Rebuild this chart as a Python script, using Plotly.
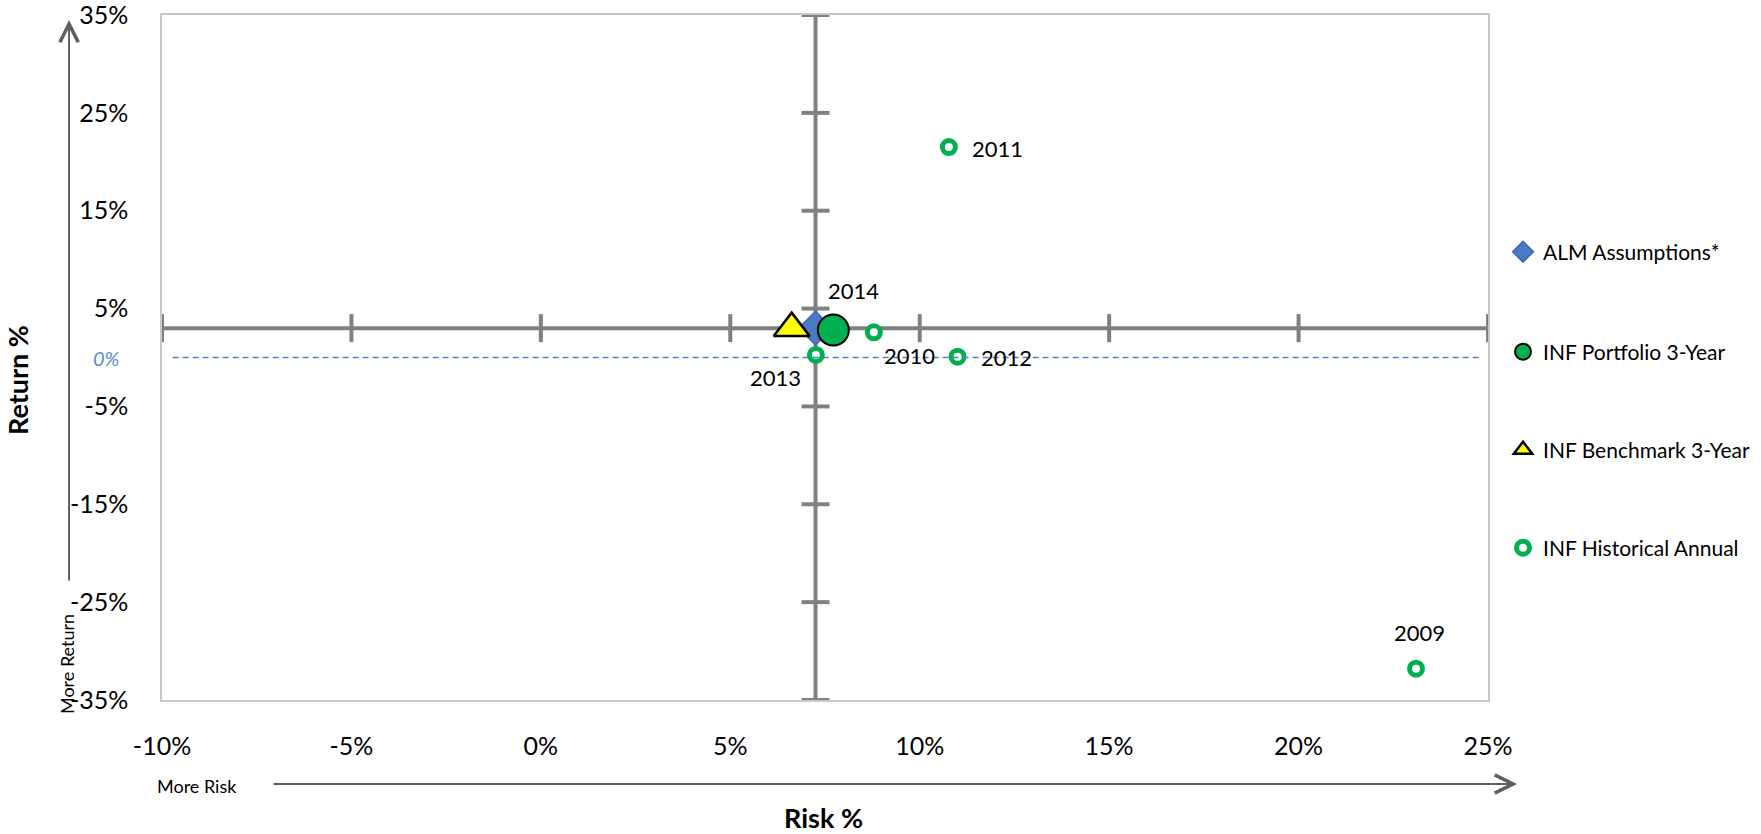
import plotly.graph_objects as go

# Risk / return figures, in percent
alm_risk = [7.25]
alm_return = [3.0]

portfolio_risk = [7.72]
portfolio_return = [2.8]

benchmark_risk = [6.62]
benchmark_return = [3.0]

hist_years = ["2009", "2010", "2011", "2012", "2013", "2014"]
hist_risk = [23.1, 8.79, 10.77, 11.0, 7.26, 7.7]
hist_return = [-31.8, 2.57, 21.5, 0.08, 0.26, 2.9]

x_ticks = [-10, -5, 0, 5, 10, 15, 20, 25]
x_tick_labels = ["-10%", "-5%", "0%", "5%", "10%", "15%", "20%", "25%"]
y_ticks = [35, 25, 15, 5, -5, -15, -25, -35]
y_tick_labels = ["35%", "25%", "15%", "5%", "-5%", "-15%", "-25%", "-35%"]
zero_line = 0

FONT = "Lato"
AXIS_GREY = "#808080"
GREEN = "#00B050"

fig = go.Figure()

# Quadrant axes crossing at the ALM assumption
fig.add_trace(go.Scatter(
    x=x_ticks, y=alm_return * len(x_ticks), mode="lines+markers",
    line=dict(color=AXIS_GREY, width=4),
    marker=dict(symbol="line-ns", size=20, line=dict(color=AXIS_GREY, width=4)),
    showlegend=False, hoverinfo="skip", cliponaxis=False,
))
fig.add_trace(go.Scatter(
    x=alm_risk * len(y_ticks), y=y_ticks, mode="lines+markers",
    line=dict(color=AXIS_GREY, width=4),
    marker=dict(symbol="line-ew", size=20, line=dict(color=AXIS_GREY, width=4)),
    showlegend=False, hoverinfo="skip", cliponaxis=False,
))

# Historical annual points
fig.add_trace(go.Scatter(
    x=hist_risk, y=hist_return, mode="markers", name="INF Historical Annual",
    marker=dict(symbol="circle", size=13, color="white", line=dict(color=GREEN, width=5)),
    legend="legend4", cliponaxis=False,
))
fig.add_trace(go.Scatter(
    x=alm_risk, y=alm_return, mode="markers", name="ALM Assumptions*",
    marker=dict(symbol="diamond", size=26, color="#4A7BC4", line=dict(color="#3A66AD", width=1.5)),
    legend="legend", cliponaxis=False,
))
fig.add_trace(go.Scatter(
    x=portfolio_risk, y=portfolio_return, mode="markers", name="INF Portfolio 3-Year",
    marker=dict(symbol="circle", size=31, color=GREEN, line=dict(color="black", width=2)),
    legend="legend2", cliponaxis=False,
))
fig.add_trace(go.Scatter(
    x=benchmark_risk, y=benchmark_return, mode="markers", name="INF Benchmark 3-Year",
    marker=dict(symbol="triangle-up", size=31, color="#FFFF00", line=dict(color="black", width=2.5)),
    legend="legend3", cliponaxis=False,
))

# Year labels beside the historical points
label_offsets = {
    "2009": (3, 36), "2010": (36, -23), "2011": (49, -1),
    "2012": (49, -1), "2013": (-40, -23), "2014": (21, 39),
}
for yr, rx, ry in zip(hist_years, hist_risk, hist_return):
    dx, dy = label_offsets[yr]
    fig.add_annotation(x=rx, y=ry, text=yr, showarrow=False, xshift=dx, yshift=dy,
                       xanchor="center", yanchor="middle",
                       font=dict(family=FONT, size=22, color="black"))

# Dashed zero-return reference line
fig.add_shape(type="line", xref="paper", yref="y", x0=0.008, x1=0.994,
              y0=zero_line, y1=zero_line,
              line=dict(color="#4F81BD", width=1.5, dash="6px,4px"))
fig.add_annotation(xref="paper", yref="y", x=-0.0422, y=zero_line, text="<i>0%</i>",
                   xanchor="center", yanchor="middle", showarrow=False,
                   font=dict(family=FONT, size=20, color="#5B8BD0"))

# Direction arrows
fig.add_annotation(xref="paper", yref="paper", x=1.0219, y=-0.1226, ax=-1245, ay=0,
                   text="", showarrow=True, arrowhead=5, arrowsize=1.8, arrowwidth=2,
                   arrowcolor="#5F5F5F")
fig.add_annotation(xref="paper", yref="paper", x=-0.0701, y=0.9927, ax=0, ay=562,
                   text="", showarrow=True, arrowhead=5, arrowsize=1.8, arrowwidth=2,
                   arrowcolor="#5F5F5F")
fig.add_annotation(xref="paper", yref="paper", x=0.0264, y=-0.1255, text="More Risk",
                   xanchor="center", yanchor="middle", showarrow=False,
                   font=dict(family=FONT, size=18, color="black"))
fig.add_annotation(xref="paper", yref="paper", x=-0.0716, y=0.0526, text="More Return",
                   xanchor="center", yanchor="middle", textangle=-90, showarrow=False,
                   font=dict(family=FONT, size=18, color="black"))

# Axis titles
fig.add_annotation(xref="paper", yref="paper", x=0.4985, y=-0.172, text="<b>Risk %</b>",
                   xanchor="center", yanchor="middle", showarrow=False,
                   font=dict(family=FONT, size=27, color="black"))
fig.add_annotation(xref="paper", yref="paper", x=-0.1094, y=0.467, text="<b>Return %</b>",
                   xanchor="center", yanchor="middle", textangle=-90, showarrow=False,
                   font=dict(family=FONT, size=27, color="black"))

legend_common = dict(xref="container", yref="container", xanchor="left", yanchor="middle",
                     bgcolor="rgba(0,0,0,0)", font=dict(family=FONT, size=21, color="black"))
lx = 0.8535

fig.update_layout(
    width=1761, height=834,
    margin=dict(l=162, r=273, t=15, b=134, autoexpand=False),
    paper_bgcolor="white", plot_bgcolor="white",
    font=dict(family=FONT, color="black"),
    xaxis=dict(range=[-10, 25], tickmode="array", tickvals=x_ticks, ticktext=x_tick_labels,
               showgrid=False, zeroline=False, showline=True, mirror=True,
               linecolor="#C8C8C8", linewidth=1.5, ticks="", ticklabelstandoff=23,
               ticklabeloverflow="allow", automargin=False,
               tickfont=dict(family=FONT, size=25, color="black")),
    yaxis=dict(range=[-35, 35], tickmode="array", tickvals=y_ticks, ticktext=y_tick_labels,
               showgrid=False, zeroline=False, showline=True, mirror=True,
               linecolor="#C8C8C8", linewidth=1.5, ticks="", ticklabelstandoff=27,
               ticklabeloverflow="allow", automargin=False,
               tickfont=dict(family=FONT, size=25, color="black")),
    legend=dict(x=lx, y=0.6978, **legend_common),
    legend2=dict(x=lx, y=0.5779, **legend_common),
    legend3=dict(x=lx, y=0.4604, **legend_common),
    legend4=dict(x=lx, y=0.3429, **legend_common),
)

fig.write_html("out.html")
